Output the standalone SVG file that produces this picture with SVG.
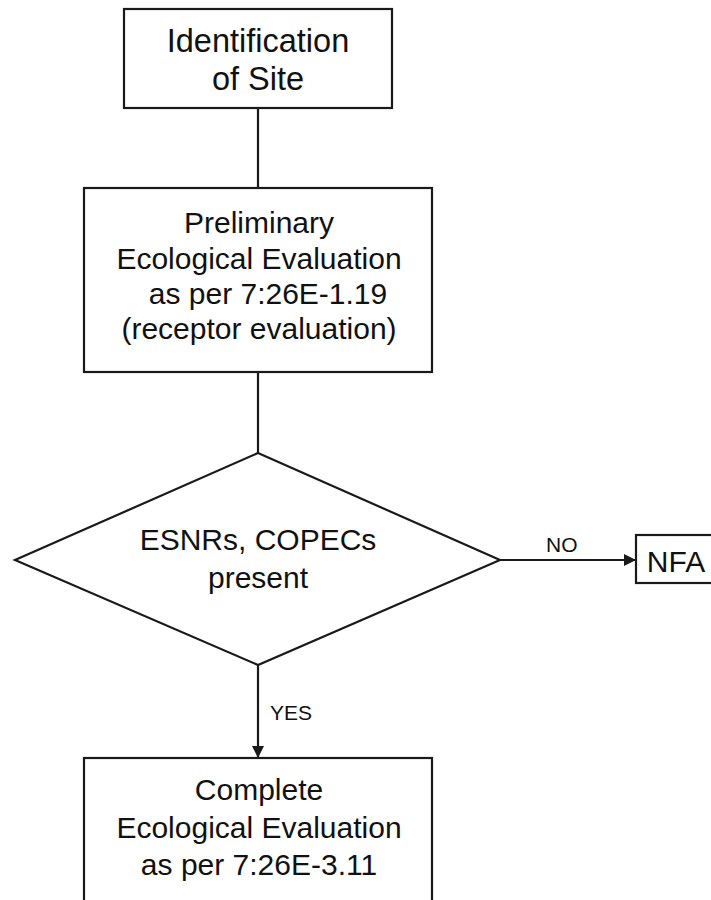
<svg xmlns="http://www.w3.org/2000/svg" width="711" height="900" viewBox="0 0 711 900">
<defs>
<style>
.box{fill:#fff;stroke:#1a1a1a;stroke-width:2.2}
.t{font-family:"Liberation Sans",Arial,sans-serif;font-size:30px;fill:#111;text-anchor:middle}
.big{font-size:32.5px}
.lbl{font-family:"Liberation Sans",Arial,sans-serif;font-size:21px;fill:#111}
.c{stroke:#1a1a1a;stroke-width:2.2;fill:none}
</style>
<marker id="ah" markerWidth="12" markerHeight="12" refX="11" refY="6" orient="auto" markerUnits="userSpaceOnUse">
<path d="M0,0 L12,6 L0,12 Z" fill="#1a1a1a"/>
</marker>
</defs>
<rect width="711" height="900" fill="#fff"/>
<g id="connectors">
<line class="c" x1="258" y1="108" x2="258" y2="188"/>
<line class="c" x1="258" y1="372" x2="258" y2="453"/>
<line class="c" x1="500" y1="560" x2="635" y2="560" marker-end="url(#ah)"/>
<line class="c" x1="258" y1="665" x2="258" y2="757" marker-end="url(#ah)"/>
<text class="lbl" x="546" y="552">NO</text>
<text class="lbl" x="270" y="720">YES</text>
</g>
<g id="identification">
<rect class="box" x="124" y="9" width="268" height="99"/>
<text class="t big" x="258" y="52">Identification</text>
<text class="t big" x="258" y="90">of Site</text>
</g>
<g id="preliminary">
<rect class="box" x="84" y="188" width="348" height="184"/>
<text class="t" x="259" y="233">Preliminary</text>
<text class="t" x="259" y="269">Ecological Evaluation</text>
<text class="t" x="268" y="304">as per 7:26E-1.19</text>
<text class="t" x="259" y="339">(receptor evaluation)</text>
</g>
<g id="decision">
<polygon class="box" points="258,453 500,560 258,665 15,560"/>
<text class="t" x="258" y="550">ESNRs, COPECs</text>
<text class="t" x="258" y="588">present</text>
</g>
<g id="nfa">
<rect class="box" x="636" y="535" width="90" height="48"/>
<text class="t" x="676" y="572">NFA</text>
</g>
<g id="complete">
<rect class="box" x="84" y="758" width="348" height="160"/>
<text class="t" x="259" y="800">Complete</text>
<text class="t" x="259" y="838">Ecological Evaluation</text>
<text class="t" x="259" y="875">as per 7:26E-3.11</text>
</g>
</svg>
